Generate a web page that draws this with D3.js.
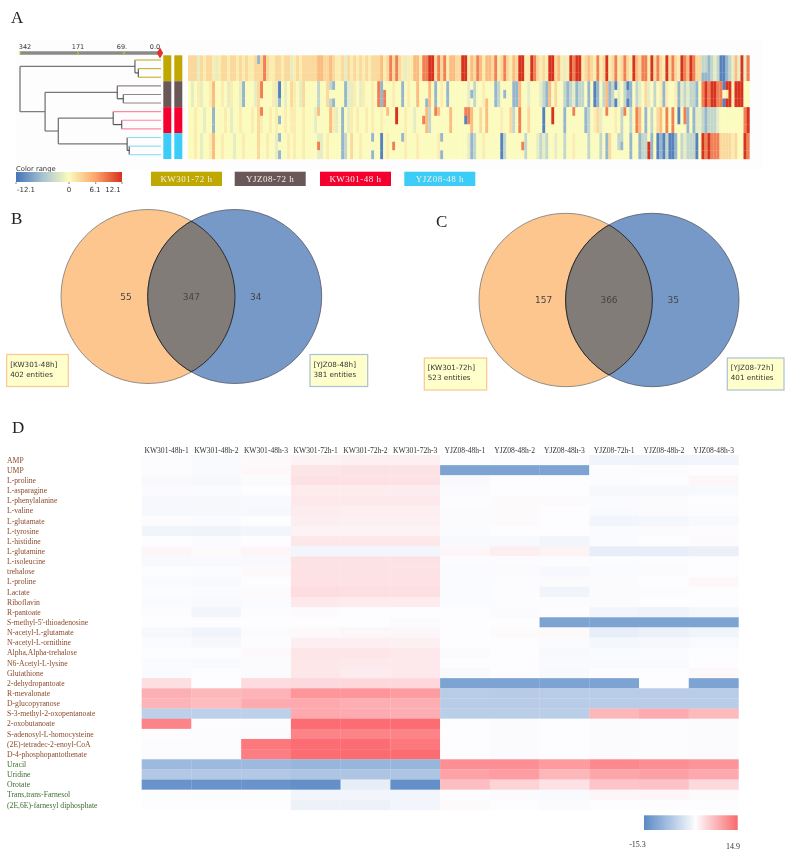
<!DOCTYPE html>
<html><head><meta charset="utf-8">
<script src="https://cdnjs.cloudflare.com/ajax/libs/d3/7.8.5/d3.min.js"></script>
<style>html,body{margin:0;padding:0;background:#fff}svg{display:block}</style></head>
<body><svg id="c" width="785" height="855" xmlns="http://www.w3.org/2000/svg"></svg>
<script>
// ---------- Panel A data ----------
const groupNames = ["KW301-72 h","YJZ08-72 h","KW301-48 h","YJZ08-48 h"];
const groupColors = ["#bfa800","#6b5858","#f5002f","#3bcdf7"];
const stripeLevels = {a:-11,b:-7,c:-4,d:-1.5,y:0,e:1,f:2.5,g:4.5,h:8,i:12.1};
const heatKW72 = "fffdfeffed effeffefef eefffhfeef feffdefeff fffggffgfe efdfefefef efffgefhfh fedeeggehh iifhfhegg f fiiegfhgeg gfhefhfegf iieeihfefe iifgedeihi iefgfehefi efhefhfeig fhheifhfei fhfeihgihf fccbcdcaab cdgdidh";
const heatYJ72 = "ydyedyyegy yeydeyydby yydfhyyyed aydyfeydfy yyycyyfcby yybddeydey yeyhbhyyey ybyeyygyyb gybyeybyyy yyydbcyyeg yybcybyybb gyydyyydcb gyfyycbcdb ccybyabycg bcadycabyc dyfdycyebe yyebdcdccb yhihiihhai ieiiiyy";
const heatKW48 = "yyeyydyyby yyeydyyeyy yeyfeyyeye yyeyeeyyey yydgyyyged ybydeyeyye yeyyeygyyi yyeyydyyhg cyhgyyygyy yyahgyyfyg yyyyeyyfcy hyyfyyyyay yiyyybyyhy yybcyefdyh yyeychycyh gybycyfgyh yhyayhbybd dcbcccdyyy yyyyyhi";
const heatYJ48 = "yyeydyyegy yeyyydyyey yyyfyyeyyd yyyeyeyyey yyyddyeyyy ybcyfyyeyy yyyyayeyyy yyeyyyeyyy yyyeyyyyyy yyydbcyyey yyyyacyyyy yycyyydcdc yydyycyyey yyycyyycyb fyycbyybyy bccibyabac aabycdccca yihihhhfff fefyyih";
const heatGroups = [heatKW72,heatYJ72,heatKW48,heatYJ48];
// [replicate row, column, level]: columns where one replicate differs from its group
const heatExceptions = [
 [0,23,"b"],[2,171,"b"],[2,172,"b"],
 [5,24,"y"],[5,30,"b"],[4,47,"y"],[4,48,"y"],[3,65,"y"],[3,79,"y"],[4,79,"y"],[3,94,"y"],[5,94,"y"],[3,99,"y"],[4,99,"y"],[3,105,"y"],[5,105,"y"],[4,178,"y"],[4,179,"e"],[4,142,"y"],[4,146,"b"],
 [6,24,"h"],[7,30,"b"],[7,43,"y"],[8,43,"y"],[7,44,"y"],[8,44,"y"],[7,66,"y"],[8,66,"y"],[8,69,"y"],[6,78,"y"],[8,78,"y"],[7,82,"y"],[8,82,"y"],[7,83,"y"],[8,83,"y"],[6,92,"h"],[8,92,"y"],[8,93,"y"],[8,121,"y"],[7,128,"y"],[8,128,"y"],[7,139,"y"],[8,139,"y"],[7,145,"y"],[8,145,"y"],[8,163,"y"],[8,165,"y"],
 [9,30,"b"],[11,30,"b"],[10,43,"h"],[9,61,"b"],[11,61,"b"],[10,68,"h"],[9,71,"b"],[9,84,"b"],[11,84,"b"],[10,111,"h"],[9,153,"y"],[9,144,"c"],[11,143,"y"],[11,144,"y"]
];
const scaleTicks = [342,171,69,0];
const scaleTickLabels = ["342","171","69.","0.0"];
const dendrogram = {h:342,children:[
 {h:48,children:[{leaf:0},{h:41.6,children:[{leaf:0},{leaf:0}]}]},
 {h:268,children:[
  {h:84,children:[{leaf:1},{h:70.6,children:[{leaf:1},{leaf:1}]}]},
  {h:229,children:[
   {h:93,children:[{leaf:2},{h:74,children:[{leaf:2},{leaf:2}]}]},
   {h:63,children:[{leaf:3},{h:59,children:[{leaf:3},{leaf:3}]}]}
  ]}
 ]}
]};
const dendroLeafColors = ["#c4b02a","#938585","#ff8a9f","#8adcf6"];
const rangeStops = [-12.1,-6,0,6.1,12.1];
const rangeColors = ["#4473b8","#a6c3cf","#fbfbbd","#fba56a","#d7301f"];
const rangeTicks = [-12.1,0,6.1,12.1];

// ---------- Panels B, C data ----------
const vennB = {onlyA:55,both:347,onlyB:34,labelA:["[KW301-48h]","402 entities"],labelB:["[YJZ08-48h]","381 entities"]};
const vennC = {onlyA:157,both:366,onlyB:35,labelA:["[KW301-72h]","523 entities"],labelB:["[YJZ08-72h]","401 entities"]};

// ---------- Panel D data ----------
const samples = ["KW301-48h-1","KW301-48h-2","KW301-48h-3","KW301-72h-1","KW301-72h-2","KW301-72h-3","YJZ08-48h-1","YJZ08-48h-2","YJZ08-48h-3","YJZ08-72h-1","YJZ08-48h-2","YJZ08-48h-3"];
const metabolites = ["AMP","UMP","L-proline","L-asparagine","L-phenylalanine","L-valine","L-glutamate","L-tyrosine","L-histidine","L-glutamine","L-isoleucine","trehalose","L-proline","Lactate","Riboflavin","R-pantoate","S-methyl-5'-thioadenosine","N-acetyl-L-glutamate","N-acetyl-L-ornithine","Alpha,Alpha-trehalose","N6-Acetyl-L-lysine","Glutathione","2-dehydropantoate","R-mevalonate","D-glucopyranose","S-3-methyl-2-oxopentanoate","2-oxobutanoate","S-adenosyl-L-homocysteine","(2E)-tetradec-2-enoyl-CoA","D-4-phosphopantothenate","Uracil","Uridine","Orotate","Trans,trans-Farnesol","(2E,6E)-farnesyl diphosphate"];
const brownCount = 30;
const metaboliteValues = [
[-0.1,-0.4,0.3,0.8,0.9,0.9,0,-0.1,-0.2,-1.2,-1.2,-1],
[-0.1,-0.4,0.4,1.8,1.9,1.9,-12,-12,-12,-0.1,-0.2,0.1],
[-0.5,-0.7,-0.2,1.9,1.9,1.9,-0.5,0,0,-0.1,0.1,0.5],
[-0.2,-0.3,0,1.3,1.3,1.2,-0.2,0,0,-0.7,-0.7,-0.5],
[-0.6,-0.7,-0.5,1.5,1.4,1.4,-0.1,0.2,0.2,-0.2,-0.2,0],
[-0.6,-0.7,-0.6,1.2,1,1,-0.2,0.2,0,-0.4,-0.2,-0.1],
[-0.1,-0.3,0,1,0.9,0.9,-0.2,0.2,0,-1,-0.8,-0.5],
[-1.2,-1.3,-1,0.8,0.7,0.8,-0.2,0,0,-0.3,-0.2,-0.1],
[0,-0.2,0,1.6,1.6,1.6,-0.5,-0.5,-1,-0.2,0,0.2],
[0.5,0.2,0.6,-1,-1,-1,0.6,1,0.8,-2,-2,-1.8],
[-0.5,-0.5,-0.5,1.9,1.9,1.9,-0.1,-0.1,-0.1,-0.1,-0.1,0],
[0.1,-0.1,0.3,2,2,1.9,-0.3,-0.2,-0.6,-0.3,-0.2,0],
[-0.4,-0.5,0,2,2,2,-0.3,-0.1,-0.2,-0.2,0,0.4],
[-0.1,-0.2,0.2,2.3,2.2,2.2,-0.3,-0.1,-1.1,-0.2,-0.1,0.1],
[-0.4,-0.5,-0.3,1.4,1.3,1.3,-0.3,-0.1,-0.1,-0.2,0,0.1],
[-0.1,-1,-0.1,0.2,0.1,0,0,-0.2,0,-1,-1.3,-0.8],
[0,0,0,0.1,0.1,-0.2,0,0.1,-12,-12,-12,-12],
[-0.7,-1.1,-0.2,0.3,0.5,0.5,0,0.2,0.3,-2,-1.6,-1.2],
[-0.3,-0.7,-0.1,1,1,0.9,0,0.1,-0.2,-0.8,-0.7,-0.4],
[0.1,0,0.3,1.7,1.7,1.5,-0.2,0,-0.5,-0.3,-0.2,0],
[-0.3,-0.4,-0.2,1.6,1.5,1.4,0.1,0,-0.4,-0.4,-0.4,0],
[-0.3,0,-0.2,1.6,1.2,1.4,-0.4,0,-0.5,0,0,0.3],
[2.2,0,2.4,2.6,2.7,2.7,-12,-12,-12,-12,0,-12],
[5.5,4.9,5.3,7.4,7.4,6.9,-6.5,-6.6,-6.5,-6.5,-6.5,-6.5],
[5.2,4.6,5.8,6,5.6,5.6,-6.5,-6.6,-6.5,-6.5,-6.5,-6.5],
[-6,-6,-6,6,5.8,5.6,-6.3,-6.3,-6.3,5,5.8,4.8],
[9,0,-0.1,11,11,11,0,-0.2,0,-0.2,-0.1,-0.2],
[0,-0.1,-0.2,9,9,9,0,-0.2,0,-0.2,-0.1,-0.2],
[-0.1,-0.1,10,11,11,10,0,-0.2,0,-0.2,-0.1,-0.2],
[-0.1,-0.1,9.5,11,11.5,11,0,-0.2,0,-0.2,-0.1,-0.2],
[-9,-9,-9,-9.5,-9.5,-9.5,8,8,7,8.5,8,7.5],
[-7,-7,-7,-7.5,-7.5,-7.5,6.5,6.8,5,6.2,6.6,6],
[-14,-14,-14,-14.5,-2,-14.5,4.5,3,2,4,4.2,2.6],
[0,-0.1,0.1,-1,-1,-1,0.1,-0.2,-0.4,0.5,0.6,0.2],
[0.1,0.1,0.1,-1.5,-1.5,-1,0.2,0,-0.2,0,0,0.1]
];
const divergingDomain = [-15.3,0,7.4,11,14.9];
const divergingColors = ["#5a8ac6","#fdfdff","#fd959a","#fb6d72","#f8696b"];

// ---------- Drawing ----------
const svg = d3.select("#c");
const defs = svg.append("defs");
const SERIF = "'Liberation Serif',serif", SANS = "'DejaVu Sans',sans-serif";
svg.append("rect").attr("width",785).attr("height",855).attr("fill","#fff");
defs.append("filter").attr("id","soft").attr("x","-2%").attr("y","-2%").attr("width","104%").attr("height","104%")
  .append("feGaussianBlur").attr("stdDeviation",0.35);
const page = svg.append("g").attr("filter","url(#soft)");

function panelLabel(t,x,y){page.append("text").attr("x",x).attr("y",y).attr("font-family",SERIF).attr("font-size",17).attr("fill","#222").text(t);}
panelLabel("A",11,23);panelLabel("B",11,224);panelLabel("C",436,227);panelLabel("D",12,433);

// Panel A
const gA = page.append("g");
gA.append("rect").attr("x",16).attr("y",40).attr("width",747).attr("height",130).attr("fill","#fdfdfd");
const colorA = d3.scaleLinear().domain(rangeStops).range(rangeColors);
const heatCols = heatGroups.map(s=>s.replace(/ /g,""));
const xA = d3.scaleLinear().domain([0,187]).range([188,749.5]);
const yRow = d3.scaleLinear().domain([0,12]).range([55.3,159]);
const exc = new Map(heatExceptions.map(e=>[e[0]+":"+e[1],e[2]]));
const cells=[];
heatCols.forEach((s,g)=>{for(let r=0;r<3;r++){const row=g*3+r;for(let c=0;c<s.length;c++){
  cells.push({row,c,level:exc.get(row+":"+c)||s[c]});}}});
gA.append("g").selectAll("rect").data(cells).join("rect")
  .attr("x",d=>xA(d.c)).attr("y",d=>yRow(d.row))
  .attr("width",xA(1)-xA(0)+0.2).attr("height",yRow(1)-yRow(0)+0.2)
  .attr("fill",d=>colorA(stripeLevels[d.level]));

// group strips
[163.3,174.3].forEach(x=>{
  gA.append("g").selectAll("rect").data(groupColors).join("rect")
   .attr("x",x).attr("width",8).attr("y",(d,i)=>yRow(i*3)).attr("height",yRow(3)-yRow(0)).attr("fill",d=>d);
});

// distance bar
const xDist = d3.scaleLinear().domain(scaleTicks).range([20,78,124,160]);
gA.append("line").attr("x1",xDist(342)).attr("x2",xDist(0)).attr("y1",53).attr("y2",53).attr("stroke","#8a8a8a").attr("stroke-width",3.6);
gA.selectAll(".tk").data(scaleTicks.slice(0,3)).join("line").attr("class","tk")
  .attr("x1",d=>xDist(d)).attr("x2",d=>xDist(d)).attr("y1",51).attr("y2",55).attr("stroke","#d8c81e").attr("stroke-width",1);
const tickAnchors=[25,78,122,155];
gA.selectAll(".tl").data(scaleTickLabels).join("text").attr("class","tl")
  .attr("x",(d,i)=>tickAnchors[i]).attr("y",49).attr("text-anchor","middle")
  .attr("font-family",SANS).attr("font-size",6.5).attr("fill","#333").text(d=>d);
gA.append("path").attr("d",d3.symbol(d3.symbolDiamond,34)()).attr("transform","translate(160,53)").attr("fill","#e0332f");

// dendrogram
const root = d3.hierarchy(dendrogram);
const yLeaf = d3.scaleLinear().domain([0,11]).range([60,154.7]);
let li=0; root.eachBefore(n=>{if(!n.children){n.py=yLeaf(li++);n.px=161;}else n.px=xDist(n.data.h);});
root.eachAfter(n=>{if(n.children)n.py=d3.mean(n.children,c=>c.py);});
const dl = gA.append("g").attr("fill","none");
root.each(n=>{ if(!n.children) return;
  const top=n.children[0].py,bot=n.children[1].py;
  const shade = n.data.h>200?"#777":"#444";
  dl.append("line").attr("x1",n.px).attr("x2",n.px).attr("y1",top).attr("y2",bot).attr("stroke",shade).attr("stroke-width",n.data.h>200?1.3:1);
  n.children.forEach(c=>{
    const col = c.children ? (c.data.h>200||n.data.h>200?"#777":"#555") : dendroLeafColors[c.data.leaf];
    dl.append("line").attr("x1",n.px).attr("x2",c.px).attr("y1",c.py).attr("y2",c.py).attr("stroke",col).attr("stroke-width",c.children?1.2:1.1);
  });
});

// colour range
const grad = defs.append("linearGradient").attr("id","gr");
rangeStops.forEach((s,i)=>grad.append("stop").attr("offset",(s+12.1)/24.2).attr("stop-color",rangeColors[i]));
const xRange = d3.scaleLinear().domain([-12.1,12.1]).range([16,122]);
gA.append("text").attr("x",16).attr("y",170.5).attr("font-family",SANS).attr("font-size",6.8).attr("fill","#333").text("Color range");
gA.append("rect").attr("x",16).attr("y",172).attr("width",106).attr("height",10).attr("fill","url(#gr)");
gA.selectAll(".rt").data(rangeTicks).join("line").attr("class","rt").attr("x1",d=>xRange(d)).attr("x2",d=>xRange(d)).attr("y1",182).attr("y2",184).attr("stroke","#555").attr("stroke-width",.7);
const rangeLabelX=[26,69,95,113];
gA.selectAll(".rl").data(rangeTicks).join("text").attr("class","rl")
 .attr("x",(d,i)=>rangeLabelX[i]).attr("y",192).attr("text-anchor","middle").attr("font-family",SANS).attr("font-size",7).attr("fill","#333").text(d=>d);

// group legend
const legX=[151,234.7,320,404.3];
groupNames.forEach((n,i)=>{
  gA.append("rect").attr("x",legX[i]).attr("y",171.7).attr("width",71).attr("height",14.3).attr("fill",groupColors[i]);
  gA.append("text").attr("x",legX[i]+35.5).attr("y",182).attr("text-anchor","middle").attr("font-family",SERIF).attr("font-size",9).attr("letter-spacing",.5).attr("fill","#f2efe6").text(n);
});

// Venns
function venn(id,d,cxA,cxB,cy,r,boxA,boxB,boxY){
  const g = page.append("g");
  defs.append("clipPath").attr("id",id).append("circle").attr("cx",cxA).attr("cy",cy).attr("r",r);
  g.append("circle").attr("cx",cxA).attr("cy",cy).attr("r",r).attr("fill","#fdc68e").attr("stroke","#777").attr("stroke-width",.8);
  g.append("circle").attr("cx",cxB).attr("cy",cy).attr("r",r).attr("fill","#7699c7").attr("stroke","#556").attr("stroke-width",.8);
  g.append("circle").attr("cx",cxB).attr("cy",cy).attr("r",r).attr("fill","#827c78").attr("clip-path",`url(#${id})`);
  g.append("circle").attr("cx",cxB).attr("cy",cy).attr("r",r).attr("fill","none").attr("stroke","#222").attr("stroke-width",.9).attr("clip-path",`url(#${id})`);
  defs.append("clipPath").attr("id",id+"b").append("circle").attr("cx",cxB).attr("cy",cy).attr("r",r);
  g.append("circle").attr("cx",cxA).attr("cy",cy).attr("r",r).attr("fill","none").attr("stroke","#222").attr("stroke-width",.9).attr("clip-path",`url(#${id}b)`);
  const mid=(cxA+cxB)/2;
  [[d.onlyA,cxA-22],[d.both,mid],[d.onlyB,cxB+21]].forEach(([v,x])=>{
    g.append("text").attr("x",x).attr("y",cy+3.2).attr("text-anchor","middle").attr("font-family",SANS).attr("font-size",9).attr("fill","#444").text(v);
  });
  [[boxA,d.labelA,"#fbc690"],[boxB,d.labelB,"#a9c0d8"]].forEach(([b,l,c])=>{
    g.append("rect").attr("x",b[0]).attr("y",boxY).attr("width",b[1]-b[0]).attr("height",32).attr("fill","#ffffcc").attr("stroke",c).attr("stroke-width",1.2);
    l.forEach((t,i)=>g.append("text").attr("x",b[0]+3.5).attr("y",boxY+12+i*10).attr("font-family",SANS).attr("font-size",7.2).attr("fill","#333").text(t));
  });
}
venn("vb",vennB,148,234.7,296.5,87,[6.7,68.3],[310,367.7],354.5);
venn("vc",vennC,565.7,652.3,300,86.7,[424.3,486.7],[727.3,784],358);

// Panel D
const xD = d3.scaleBand().domain(d3.range(samples.length)).range([141.7,738.5]);
const yD = d3.scaleBand().domain(d3.range(metabolites.length)).range([455,810]);
const colorD = d3.scaleLinear().domain(divergingDomain).range(divergingColors);
const gD = page.append("g");
metaboliteValues.forEach((row,r)=>{
  gD.append("g").selectAll("rect").data(row).join("rect")
    .attr("x",(v,c)=>xD(c)).attr("y",yD(r)).attr("width",xD.bandwidth()+.2).attr("height",yD.bandwidth()+.2).attr("fill",v=>colorD(v));
});
gD.selectAll(".ml").data(metabolites).join("text").attr("class","ml")
  .attr("x",7).attr("y",(d,i)=>yD(i)+yD.bandwidth()/2+2.6)
  .attr("font-family",SERIF).attr("font-size",7.7).attr("fill",(d,i)=>i<brownCount?"#8a4a2a":"#3f6b30").text(d=>d);
gD.selectAll(".sl").data(samples).join("text").attr("class","sl")
  .attr("x",(d,i)=>xD(i)+xD.bandwidth()/2).attr("y",452.5).attr("text-anchor","middle")
  .attr("font-family",SERIF).attr("font-size",7.6).attr("fill","#333").text(d=>d);
const gd2 = defs.append("linearGradient").attr("id","gd");
[[0,"#5a8ac6"],[.55,"#fdfdff"],[1,"#f8696b"]].forEach(s=>gd2.append("stop").attr("offset",s[0]).attr("stop-color",s[1]));
gD.append("rect").attr("x",644).attr("y",815.3).attr("width",93.7).attr("height",14.7).attr("fill","url(#gd)");
gD.append("text").attr("x",637.5).attr("y",847).attr("text-anchor","middle").attr("font-family",SERIF).attr("font-size",8).attr("fill","#333").text(divergingDomain[0]);
gD.append("text").attr("x",733).attr("y",848.5).attr("text-anchor","middle").attr("font-family",SERIF).attr("font-size",8).attr("fill","#333").text(divergingDomain[4]);
</script></body></html>
